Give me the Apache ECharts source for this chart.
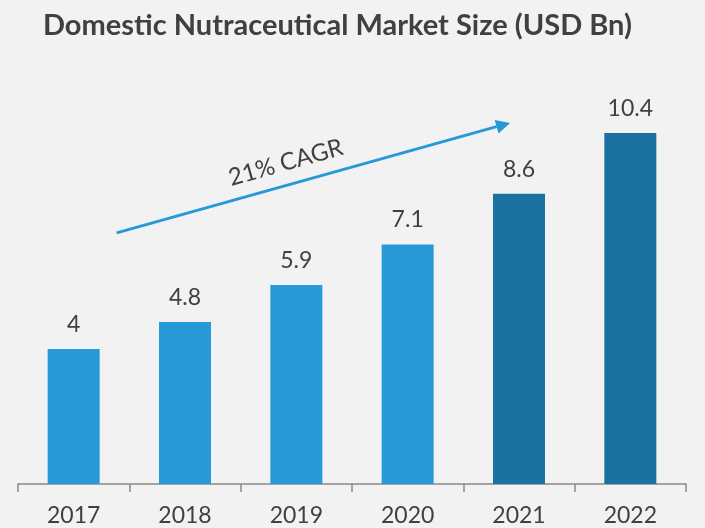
<!DOCTYPE html>
<html><head><meta charset="utf-8">
<script src="https://cdn.jsdelivr.net/npm/echarts@6/dist/echarts.min.js"></script>
<style>html,body{margin:0;padding:0;background:#F2F2F2;}#c{width:705px;height:528px;}</style>
</head><body><div id="c"></div>
<script>
const categories = ['2017','2018','2019','2020','2021','2022'];
const values = [4, 4.8, 5.9, 7.1, 8.6, 10.4];
const barColors = ['#2699D6','#2699D6','#2699D6','#2699D6','#1B72A0','#1B72A0'];
const cagrLabel = '21% CAGR';
// arrow endpoints in data terms: [category index (fractional), value]
const arrowStart = [0.386, 7.44];
const arrowEnd = [3.92, 10.7];

const chart = echarts.init(document.getElementById('c'));
const FONT = 'Lato';
chart.setOption({
  backgroundColor: '#F2F2F2',
  animation: false,
  title: {
    text: 'Domestic Nutraceutical Market Size (USD Bn)',
    left: 38, top: 6,
    textStyle: { fontFamily: FONT, fontWeight: 'bold', fontSize: 29, color: '#404040' }
  },
  grid: { left: 18, right: 19, top: 79, bottom: 44 },
  xAxis: {
    type: 'category', data: categories,
    axisLine: { lineStyle: { color: '#898989', width: 1.5 } },
    axisTick: { show: true, length: 8, lineStyle: { color: '#898989', width: 1.5 } },
    axisLabel: { fontFamily: FONT, fontSize: 23, color: '#404040', margin: 20 }
  },
  yAxis: { type: 'value', min: 0, max: 12, show: false, splitLine: { show: false } },
  series: [{
    type: 'bar', barWidth: 52,
    data: values.map((v, i) => ({ value: v, itemStyle: { color: barColors[i] } })),
    label: { show: true, position: 'top', distance: 13, fontFamily: FONT, fontSize: 23, color: '#404040' }
  }]
});

function toPx(p) {
  const a = chart.convertToPixel({ gridIndex: 0 }, [0, p[1]]);
  const b = chart.convertToPixel({ gridIndex: 0 }, [1, p[1]]);
  return [a[0] + (b[0] - a[0]) * p[0], a[1]];
}
const s = toPx(arrowStart), e = toPx(arrowEnd);
const ang = Math.atan2(e[1] - s[1], e[0] - s[0]);
const hl = 14, hw = 7;
const back = [e[0] - hl * Math.cos(ang), e[1] - hl * Math.sin(ang)];
const p1 = [back[0] + hw * Math.sin(ang), back[1] - hw * Math.cos(ang)];
const p2 = [back[0] - hw * Math.sin(ang), back[1] + hw * Math.cos(ang)];
const mid = [s[0] + (e[0] - s[0]) * 0.43, s[1] + (e[1] - s[1]) * 0.43];
chart.setOption({
  graphic: [
    { type: 'line', shape: { x1: s[0], y1: s[1], x2: back[0], y2: back[1] }, style: { stroke: '#2699D6', lineWidth: 3 } },
    { type: 'polygon', shape: { points: [e, p1, p2] }, style: { fill: '#2699D6' } },
    { type: 'text', x: mid[0], y: mid[1] - 23, rotation: -ang,
      style: { text: cagrLabel, font: '24px ' + FONT, fill: '#404040', align: 'center', verticalAlign: 'middle' } }
  ]
});
</script></body></html>
